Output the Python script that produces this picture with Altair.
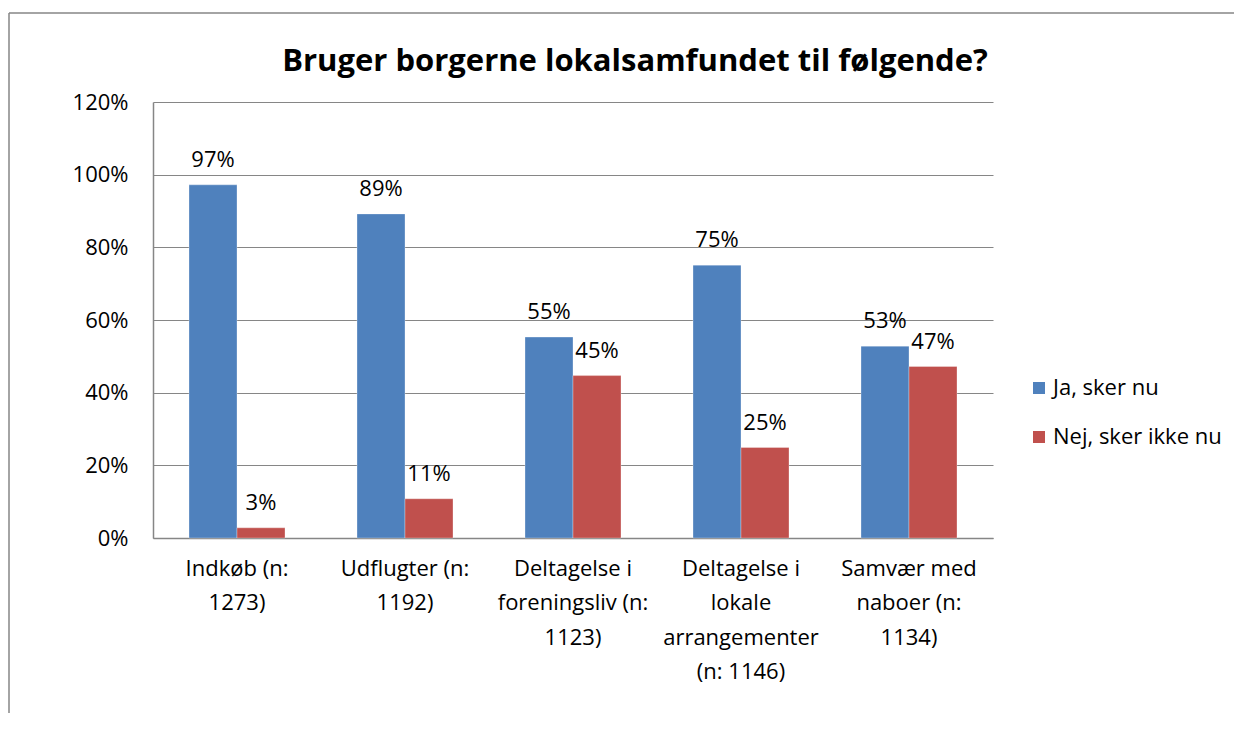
import altair as alt
import pandas as pd

categories = ["Indkøb (n:|1273)", "Udflugter (n:|1192)", "Deltagelse i|foreningsliv (n:|1123)",
              "Deltagelse i|lokale|arrangementer|(n: 1146)", "Samvær med|naboer (n:|1134)"]
series = ["Ja, sker nu", "Nej, sker ikke nu"]
ja_values = [0.972, 0.892, 0.553, 0.751, 0.528]
nej_values = [0.028, 0.108, 0.447, 0.249, 0.472]
y_ticks = [0, 0.2, 0.4, 0.6, 0.8, 1.0, 1.2]
colors = ["#4F81BD", "#C0504D"]

rows = []
for c, j, n in zip(categories, ja_values, nej_values):
    rows.append({"cat": c, "series": series[0], "value": j})
    rows.append({"cat": c, "series": series[1], "value": n})
df = pd.DataFrame(rows)

FONT = "Open Sans"
FS = 22
W, H = 840, 436
PL, PT = 145, 94
TOTAL_W, TOTAL_H = 1226, 705

x_enc = alt.X("cat:N", sort=categories, title=None,
              scale=alt.Scale(paddingInner=0.4286, paddingOuter=0.2143),
              axis=alt.Axis(labelAngle=0, labelExpr="split(datum.label, '|')",
                            labelFontSize=FS, labelFont=FONT, labelColor="#000000",
                            labelLineHeight=34.5, labelPadding=20, ticks=False,
                            domainColor="#868686", domainWidth=1.5, labelLimit=300))
y_enc = alt.Y("value:Q", title=None,
              scale=alt.Scale(domain=[0, 1.2], nice=False),
              axis=alt.Axis(values=y_ticks, format=".0%", labelFontSize=FS, labelFont=FONT,
                            labelColor="#000000", ticks=False, labelPadding=25,
                            grid=True, gridColor="#868686", gridWidth=1,
                            domainColor="#868686", domainWidth=1.5))
xo = alt.XOffset("series:N", sort=series, scale=alt.Scale(paddingInner=0, paddingOuter=0))

base = alt.Chart(df)
bars = base.mark_bar(stroke="#ffffff", strokeWidth=0.5, strokeOpacity=0.6).encode(
    x=x_enc, xOffset=xo, y=y_enc,
    color=alt.Color("series:N", sort=series,
                    scale=alt.Scale(domain=series, range=colors),
                    legend=alt.Legend(title=None, orient="none", legendX=875, legendY=275,
                                      symbolType="square", symbolSize=144,
                                      symbolStrokeWidth=0, labelFontSize=FS, labelFont=FONT,
                                      labelColor="#000000", rowPadding=27, labelOffset=3,
                                      labelLimit=400))
)
labels = base.mark_text(baseline="bottom", dy=-13, fontSize=FS, font=FONT, color="#000000").encode(
    x=alt.X("cat:N", sort=categories), xOffset=xo, y="value:Q",
    text=alt.Text("value:Q", format=".0%")
)

one = alt.Chart(pd.DataFrame({"a": [0]}))
border_top = one.mark_rule(color="#868686", strokeWidth=1.5).encode(
    x=alt.value(-PL + 1), x2=alt.value(TOTAL_W - PL), y=alt.value(-PT + 5))
border_left = one.mark_rule(color="#868686", strokeWidth=1.5).encode(
    x=alt.value(-PL + 1), y=alt.value(-PT + 5), y2=alt.value(TOTAL_H - PT))

chart = alt.layer(border_top, border_left, bars, labels).properties(
    width=W, height=H,
    padding={"left": PL, "top": PT, "right": TOTAL_W - PL - W, "bottom": TOTAL_H - PT - H},
    autosize=alt.AutoSizeParams(type="none"),
    title=alt.Title("Bruger borgerne lokalsamfundet til følgende?", fontSize=31,
                    font=FONT, fontWeight="bold", color="#000000", anchor="middle",
                    dx=62, offset=-66)
).configure_view(stroke=None)

chart.save("out.html", embed_options={"renderer": "svg", "actions": False})
